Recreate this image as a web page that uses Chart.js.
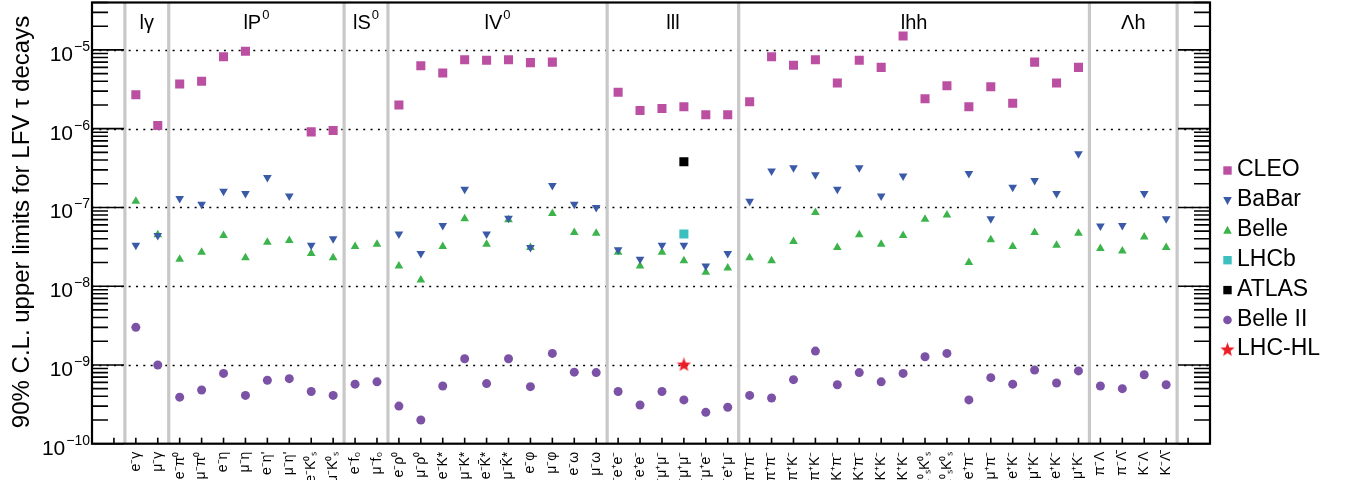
<!DOCTYPE html>
<html><head><meta charset="utf-8">
<script src="https://cdn.jsdelivr.net/npm/chart.js@4.4.1/dist/chart.umd.min.js"></script>
<style>html,body{margin:0;padding:0;background:#fff;overflow:hidden}canvas{display:block}</style>
</head><body>
<canvas id="c" width="1354" height="480"></canvas>
<script>
// ---------- data ----------
const categories = [
 'e⁻γ','μ⁻γ',
 'e⁻π⁰','μ⁻π⁰','e⁻η','μ⁻η',"e⁻η'","μ⁻η'",'e⁻K⁰ₛ','μ⁻K⁰ₛ',
 'e⁻f₀','μ⁻f₀',
 'e⁻ρ⁰','μ⁻ρ⁰','e⁻K*','μ⁻K*','e⁻K̄*','μ⁻K̄*','e⁻φ','μ⁻φ','e⁻ω','μ⁻ω',
 'e⁻e⁺e⁻','μ⁻e⁺e⁻','e⁻μ⁺μ⁻','μ⁻μ⁺μ⁻','e⁻μ⁺e⁻','μ⁻e⁺μ⁻',
 'e⁻π⁺π⁻','μ⁻π⁺π⁻','e⁻π⁺K⁻','μ⁻π⁺K⁻','e⁻K⁺π⁻','μ⁻K⁺π⁻','e⁻K⁺K⁻','μ⁻K⁺K⁻',
 'e⁻K⁰ₛK⁰ₛ','μ⁻K⁰ₛK⁰ₛ','π⁻e⁺π⁻','π⁻μ⁺π⁻','π⁻e⁺K⁻','π⁻μ⁺K⁻','K⁻e⁺K⁻','K⁻μ⁺K⁻',
 'π⁻Λ','π⁻Λ̄','K⁻Λ','K⁻Λ̄'
];
const groupNames = ['l\u03b3','lP','lS','lV','lll','lhh','\u039bh'];
const groupSups  = ['','0','0','0','','',''];
const groupEdges = [-0.5,1.5,9.5,11.5,21.5,27.5,43.5,47.5];

const cleo = [2.7e-6,1.1e-6, 3.7e-6,4.0e-6,8.2e-6,9.6e-6,null,null,9.1e-7,9.5e-7, null,null,
 2.0e-6,6.3e-6,5.1e-6,7.5e-6,7.4e-6,7.5e-6,6.9e-6,7.0e-6,null,null,
 2.9e-6,1.7e-6,1.8e-6,1.9e-6,1.5e-6,1.5e-6,
 2.2e-6,8.2e-6,6.4e-6,7.5e-6,3.8e-6,7.4e-6,6.0e-6,1.5e-5,2.4e-6,3.5e-6,1.9e-6,3.4e-6,2.1e-6,7.0e-6,3.8e-6,6.0e-6,
 null,null,null,null];
const babar = [3.3e-8,4.4e-8, 1.3e-7,1.1e-7,1.6e-7,1.5e-7,2.4e-7,1.4e-7,3.3e-8,4.0e-8, null,null,
 4.6e-8,2.6e-8,5.9e-8,1.7e-7,4.6e-8,7.3e-8,3.1e-8,1.9e-7,1.1e-7,1.0e-7,
 2.9e-8,2.2e-8,3.3e-8,3.3e-8,1.8e-8,2.6e-8,
 1.2e-7,2.9e-7,3.2e-7,2.6e-7,1.7e-7,3.2e-7,1.4e-7,2.5e-7,null,null,2.7e-7,7.2e-8,1.8e-7,2.2e-7,1.5e-7,4.8e-7,
 5.8e-8,5.9e-8,1.5e-7,7.2e-8];
const belle = [1.2e-7,4.5e-8, 2.2e-8,2.7e-8,4.4e-8,2.3e-8,3.6e-8,3.8e-8,2.6e-8,2.3e-8, 3.2e-8,3.4e-8,
 1.8e-8,1.2e-8,3.2e-8,7.2e-8,3.4e-8,7.0e-8,3.1e-8,8.4e-8,4.8e-8,4.7e-8,
 2.7e-8,1.8e-8,2.7e-8,2.1e-8,1.5e-8,1.7e-8,
 2.3e-8,2.1e-8,3.7e-8,8.6e-8,3.1e-8,4.5e-8,3.4e-8,4.4e-8,7.1e-8,8.0e-8,2.0e-8,3.9e-8,3.2e-8,4.8e-8,3.3e-8,4.7e-8,
 3.0e-8,2.8e-8,4.2e-8,3.1e-8];
const belle2 = [3.0e-9,1.0e-9, 3.9e-10,4.8e-10,7.8e-10,4.1e-10,6.4e-10,6.7e-10,4.6e-10,4.1e-10, 5.7e-10,6.1e-10,
 3.0e-10,2.0e-10,5.4e-10,1.2e-9,5.8e-10,1.2e-9,5.3e-10,1.4e-9,8.1e-10,8.0e-10,
 4.6e-10,3.1e-10,4.6e-10,3.6e-10,2.5e-10,2.9e-10,
 4.1e-10,3.8e-10,6.5e-10,1.5e-9,5.6e-10,8.0e-10,6.1e-10,7.8e-10,1.27e-9,1.4e-9,3.6e-10,6.9e-10,5.7e-10,8.6e-10,5.9e-10,8.4e-10,
 5.4e-10,5.0e-10,7.5e-10,5.6e-10];
const lhcbCats = ['μ⁻μ⁺μ⁻'];   const lhcbVals = [4.6e-8];
const atlasCats = ['μ⁻μ⁺μ⁻'];  const atlasVals = [3.8e-7];
const lhchlCats = ['μ⁻μ⁺μ⁻'];  const lhchlVals = [1.0e-9];

const yDecades = [-10,-9,-8,-7,-6,-5];
const gridDecades = [-9,-8,-7,-6,-5];
const yTitle = '90% C.L. upper limits for LFV \u03c4 decays';

// ---------- helpers ----------
function toPoints(vals){ const out=[]; vals.forEach((v,i)=>{ if(v!==null) out.push({x:i,y:v}); }); return out; }
function toPointsCats(cats, vals){ return cats.map((c,i)=>({x:categories.indexOf(c), y:vals[i]})); }
function makeStar(size,color){
  const c=document.createElement('canvas'); c.width=c.height=size;
  const g=c.getContext('2d'); g.fillStyle=color; g.beginPath();
  for(let k=0;k<10;k++){ const r=k%2? size*0.21 : size/2; const a=-Math.PI/2+k*Math.PI/5;
    g.lineTo(size/2+r*Math.cos(a), size/2+r*Math.sin(a)); }
  g.closePath(); g.fill(); return c;
}
const FONT='"Liberation Sans", Arial, Helvetica, sans-serif';
const cCLEO='#bb4fa2', cBABAR='#3a5aa8', cBELLE='#3cb44b', cLHCB='#3cbfbf', cATLAS='#000000', cB2='#7b52a6', cHL='#ee1c25';
const starImg = makeStar(15, cHL);
const starLeg = makeStar(15, cHL);

const datasets = [
 {label:'CLEO', data:toPoints(cleo), backgroundColor:cCLEO, pointStyle:'rect', pointRadius:6.4, legStyle:'square'},
 {label:'BaBar', data:toPoints(babar), backgroundColor:cBABAR, pointStyle:'triangle', rotation:180, pointRadius:5, legStyle:'down'},
 {label:'Belle', data:toPoints(belle), backgroundColor:cBELLE, pointStyle:'triangle', pointRadius:5, legStyle:'up'},
 {label:'LHCb', data:toPointsCats(lhcbCats,lhcbVals), backgroundColor:cLHCB, pointStyle:'rect', pointRadius:6.4, legStyle:'square'},
 {label:'ATLAS', data:toPointsCats(atlasCats,atlasVals), backgroundColor:cATLAS, pointStyle:'rect', pointRadius:6.4, legStyle:'square'},
 {label:'Belle II', data:toPoints(belle2), backgroundColor:cB2, pointStyle:'circle', pointRadius:4.5, legStyle:'circle'},
 {label:'LHC-HL', data:toPointsCats(lhchlCats,lhchlVals), backgroundColor:cHL, pointStyle:starImg, pointRadius:7, legStyle:'star'}
];
datasets.forEach(d=>{ d.borderWidth=0; d.pointBorderWidth=0; d.showLine=false; d.borderColor=d.backgroundColor; });

function legMarker(ctx, style, color, x, y){
  ctx.fillStyle=color; ctx.beginPath();
  if(style==='square'){ ctx.rect(x-4.2,y-4.2,8.4,8.4); }
  else if(style==='circle'){ ctx.arc(x,y,4.3,0,Math.PI*2); }
  else if(style==='up'){ ctx.moveTo(x,y-4.5); ctx.lineTo(x+4.3,y+3.5); ctx.lineTo(x-4.3,y+3.5); ctx.closePath(); }
  else if(style==='down'){ ctx.moveTo(x,y+4.5); ctx.lineTo(x+4.3,y-3.5); ctx.lineTo(x-4.3,y-3.5); ctx.closePath(); }
  else if(style==='star'){ ctx.drawImage(starLeg, x-7.5, y-7.5); return; }
  ctx.fill();
}

const deco = {
  id:'deco',
  beforeDatasetsDraw(chart){
    const {ctx, chartArea:a, scales:{x,y}} = chart;
    ctx.save();
    ctx.strokeStyle='#000'; ctx.lineWidth=1.7; ctx.setLineDash([2,5.33]);
    for(const e of gridDecades){ const py=Math.round(y.getPixelForValue(10**e))+0.5;
      ctx.beginPath(); ctx.moveTo(a.left,py); ctx.lineTo(a.right,py); ctx.stroke(); }
    ctx.setLineDash([]);
    ctx.strokeStyle='#c8c8c8'; ctx.lineWidth=3.2;
    for(const g of groupEdges){ const px=x.getPixelForValue(g);
      ctx.beginPath(); ctx.moveTo(px,a.top); ctx.lineTo(px,a.bottom); ctx.stroke(); }
    ctx.restore();
  },
  afterDraw(chart){
    const {ctx, chartArea:a, scales:{x,y}} = chart;
    ctx.save();
    // ticks
    ctx.strokeStyle='#000'; ctx.lineWidth=1.6;
    for(let d=-10; d<=-5; d++){
      for(let k=1;k<=9;k++){
        const v=k*10**d; if(v>4.01e-5) continue;
        const py=y.getPixelForValue(v); const L = k===1?32:16;
        ctx.beginPath(); ctx.moveTo(a.left,py); ctx.lineTo(a.left+L,py);
        ctx.moveTo(a.right,py); ctx.lineTo(a.right-L,py); ctx.stroke();
      }
    }
    for(let i=-1;i<=48;i++){ const px=x.getPixelForValue(i);
      ctx.beginPath(); ctx.moveTo(px,a.bottom); ctx.lineTo(px,a.bottom-6); ctx.stroke(); }
    // frame
    ctx.lineWidth=2.2; ctx.strokeRect(a.left,a.top,a.right-a.left,a.bottom-a.top);
    // y tick labels
    ctx.fillStyle='#000'; ctx.textAlign='right'; ctx.textBaseline='alphabetic';
    for(const e of yDecades){
      const py=y.getPixelForValue(10**e);
      const sup='\u2212'+Math.abs(e);
      ctx.font='14px '+FONT; const sw=ctx.measureText(sup).width;
      ctx.fillText(sup, 90, py+1);
      ctx.font='21px '+FONT; ctx.fillText('10', 89-sw, py+11);
    }
    // y title
    ctx.save(); ctx.translate(29,222); ctx.rotate(-Math.PI/2);
    ctx.textAlign='center'; ctx.font='24px '+FONT; ctx.fillText(yTitle,0,0); ctx.restore();
    // group labels
    for(let g=0; g<groupNames.length; g++){
      const cx=(x.getPixelForValue(groupEdges[g])+x.getPixelForValue(groupEdges[g+1]))/2;
      ctx.font='20px '+FONT; const w1=ctx.measureText(groupNames[g]).width;
      ctx.font='13px '+FONT; const w2=groupSups[g]?ctx.measureText(groupSups[g]).width+1:0;
      const x0=cx-(w1+w2)/2;
      ctx.textAlign='left';
      ctx.font='20px '+FONT; ctx.fillText(groupNames[g], x0, 29);
      if(groupSups[g]){ ctx.font='13px '+FONT; ctx.fillText(groupSups[g], x0+w1+1, 18.5); }
    }
    // legend
    ctx.textAlign='left'; ctx.font='23px '+FONT;
    chart.data.datasets.forEach((d,i)=>{
      const base=176+i*29.9;
      legMarker(ctx, d.legStyle, d.backgroundColor, 1227.5, base-5.5);
      ctx.fillStyle='#000'; ctx.fillText(d.label, 1237, base);
    });
    ctx.restore();
  }
};

new Chart(document.getElementById('c'), {
  type:'scatter',
  data:{datasets},
  options:{
    responsive:false, animation:false, events:[],
    layout:{autoPadding:false, padding:{left:92, right:144, top:2.5, bottom:0}},
    plugins:{legend:{display:false}, tooltip:{enabled:false}},
    scales:{
      x:{type:'linear', min:-2, max:49,
         afterBuildTicks:s=>{ s.ticks=categories.map((_,i)=>({value:i})); },
         afterFit:s=>{ s.height=480-443.7; },
         grid:{display:false, drawTicks:false}, border:{display:false},
         ticks:{autoSkip:false, maxRotation:90, minRotation:90, padding:8, color:'#000',
                font:{family:FONT, size:14},
                callback:v=>categories[v] ?? ''}},
      y:{type:'logarithmic', min:1e-10, max:4e-5, display:false}
    }
  },
  plugins:[deco]
});
</script>
</body></html>
